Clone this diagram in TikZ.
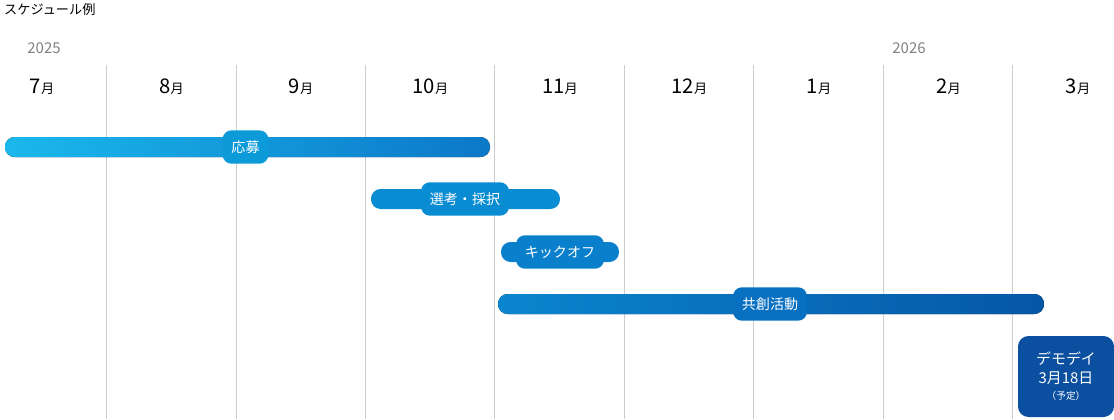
\documentclass[tikz,border=0pt]{standalone}
\usepackage{fontspec}
\setmainfont{Noto Sans CJK JP}
\definecolor{cA}{RGB}{26,184,236}
\definecolor{cA2}{RGB}{12,120,200}
\definecolor{cAp}{RGB}{12,154,216}
\definecolor{cB}{RGB}{10,140,210}
\definecolor{cC}{RGB}{10,128,204}
\definecolor{cD}{RGB}{10,134,206}
\definecolor{cD2}{RGB}{6,86,168}
\definecolor{cDp}{RGB}{8,112,192}
\definecolor{cE}{RGB}{10,79,160}
\begin{document}
\begin{tikzpicture}[x=0.02cm,y=-0.02cm,
  grid/.style={draw=black!20,line width=0.5pt},
  pill/.style={text=white,font=\fontsize{8}{9}\selectfont,rounded corners=5pt,minimum height=19pt,inner xsep=5pt},
  mon/.style={font=\fontsize{11.5}{12}\selectfont},
  yr/.style={text=black!50,font=\fontsize{8.5}{10}\selectfont}]
\useasboundingbox (0,0) rectangle (1114,419);
\node[anchor=west,font=\fontsize{7.5}{9}\selectfont] (title) at (-2,10) {スケジュール例};
\node[yr] (y1) at (44,48) {2025};
\node[yr] (y2) at (909,48) {2026};
\foreach \x in {106,236,365,494,624,753,883,1012} \draw[grid] (\x,65) -- (\x,419);
\foreach \m [count=\i from 0] in {7,8,9,10,11,12,1,2,3}
  \node[mon] (m\i) at (42+129.5*\i,87) {\m{\fontsize{7.5}{9}\selectfont 月}};
\fill[left color=cA,right color=cA2,rounded corners=5.5pt] (5,137) rectangle (490,157);
\fill[cB,rounded corners=5.5pt] (371,189) rectangle (560,209);
\fill[cC,rounded corners=5.5pt] (501,242) rectangle (619,262);
\fill[left color=cD,right color=cD2,rounded corners=5.5pt] (498,294) rectangle (1044,314);
\node[pill,fill=cAp] (a) at (245.5,147) {応募};
\node[pill,fill=cB] (b) at (465,199) {選考・採択};
\node[pill,fill=cC] (c) at (560,252) {キックオフ};
\node[pill,fill=cDp] (d) at (770,304) {共創活動};
\fill[cE,rounded corners=6pt] (1018,336) rectangle (1114,417);
\node[text=white,align=center,font=\fontsize{8.5}{11}\selectfont] (e) at (1066,376)
  {デモデイ\\3月18日\\[-2pt]{\fontsize{5.5}{7}\selectfont （予定）}};
\end{tikzpicture}
\end{document}
